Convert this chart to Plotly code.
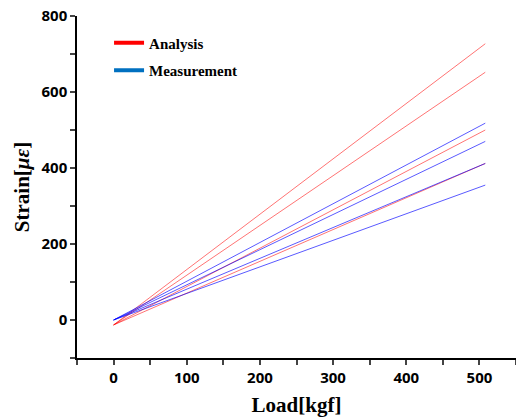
import plotly.graph_objects as go

load = [0, 508]
analysis = [
    [-13, 727],
    [-13, 652],
    [-13, 500],
    [-13, 412],
]
measurement = [
    [0, 518],
    [0, 470],
    [0, 412],
    [0, 355],
]

fig = go.Figure()
for ys in analysis:
    fig.add_trace(go.Scatter(x=load, y=ys, mode="lines", showlegend=False,
                             line=dict(color="rgba(255,0,0,0.55)", width=1)))
for ys in measurement:
    fig.add_trace(go.Scatter(x=load, y=ys, mode="lines", showlegend=False,
                             line=dict(color="rgba(0,0,255,0.65)", width=1)))

fig.add_trace(go.Scatter(x=[None], y=[None], mode="lines", name="Analysis",
                         legendgroup="a", line=dict(color="#FF0000", width=4)))
fig.add_trace(go.Scatter(x=[None], y=[None], mode="lines", name="Measurement",
                         legendgroup="m", line=dict(color="#0070C0", width=4)))

tickfont = dict(family="Noto Sans", size=15, color="black", weight="bold")
titlefont = dict(family="Liberation Serif", size=21, color="black", weight="bold")

fig.update_layout(
    width=516, height=418,
    margin=dict(l=77, r=0, t=16, b=60),
    plot_bgcolor="white", paper_bgcolor="white",
    legend=dict(x=0.073, y=0.969, xanchor="left", yanchor="top",
                font=dict(family="Liberation Serif", size=15, color="black", weight="bold"),
                traceorder="grouped", tracegroupgap=5, bgcolor="rgba(0,0,0,0)"),
    xaxis=dict(range=[-50, 550], tick0=0, dtick=100, ticks="outside", ticklen=5,
               tickwidth=1.5, showline=True, linecolor="black", linewidth=1.5,
               showgrid=False, zeroline=False, tickfont=tickfont, automargin=False,
               minor=dict(tick0=0, dtick=50, ticks="outside", ticklen=5, tickwidth=1.5,
                          showgrid=False),
               title=dict(text="Load[kgf]", font=titlefont, standoff=12)),
    yaxis=dict(range=[-100, 800], tick0=0, dtick=200, ticks="outside", ticklen=5,
               tickwidth=1.5, showline=True, linecolor="black", linewidth=1.5,
               showgrid=False, zeroline=False, tickfont=tickfont, automargin=False,
               minor=dict(tick0=0, dtick=100, ticks="outside", ticklen=5, tickwidth=1.5,
                          showgrid=False),
               title=dict(text="Strain[<i>με</i>]", font=titlefont, standoff=6)),
)

fig.write_html("out.html", config={"displayModeBar": False},
               post_script="document.body.style.margin='0';document.body.style.padding='0';")
